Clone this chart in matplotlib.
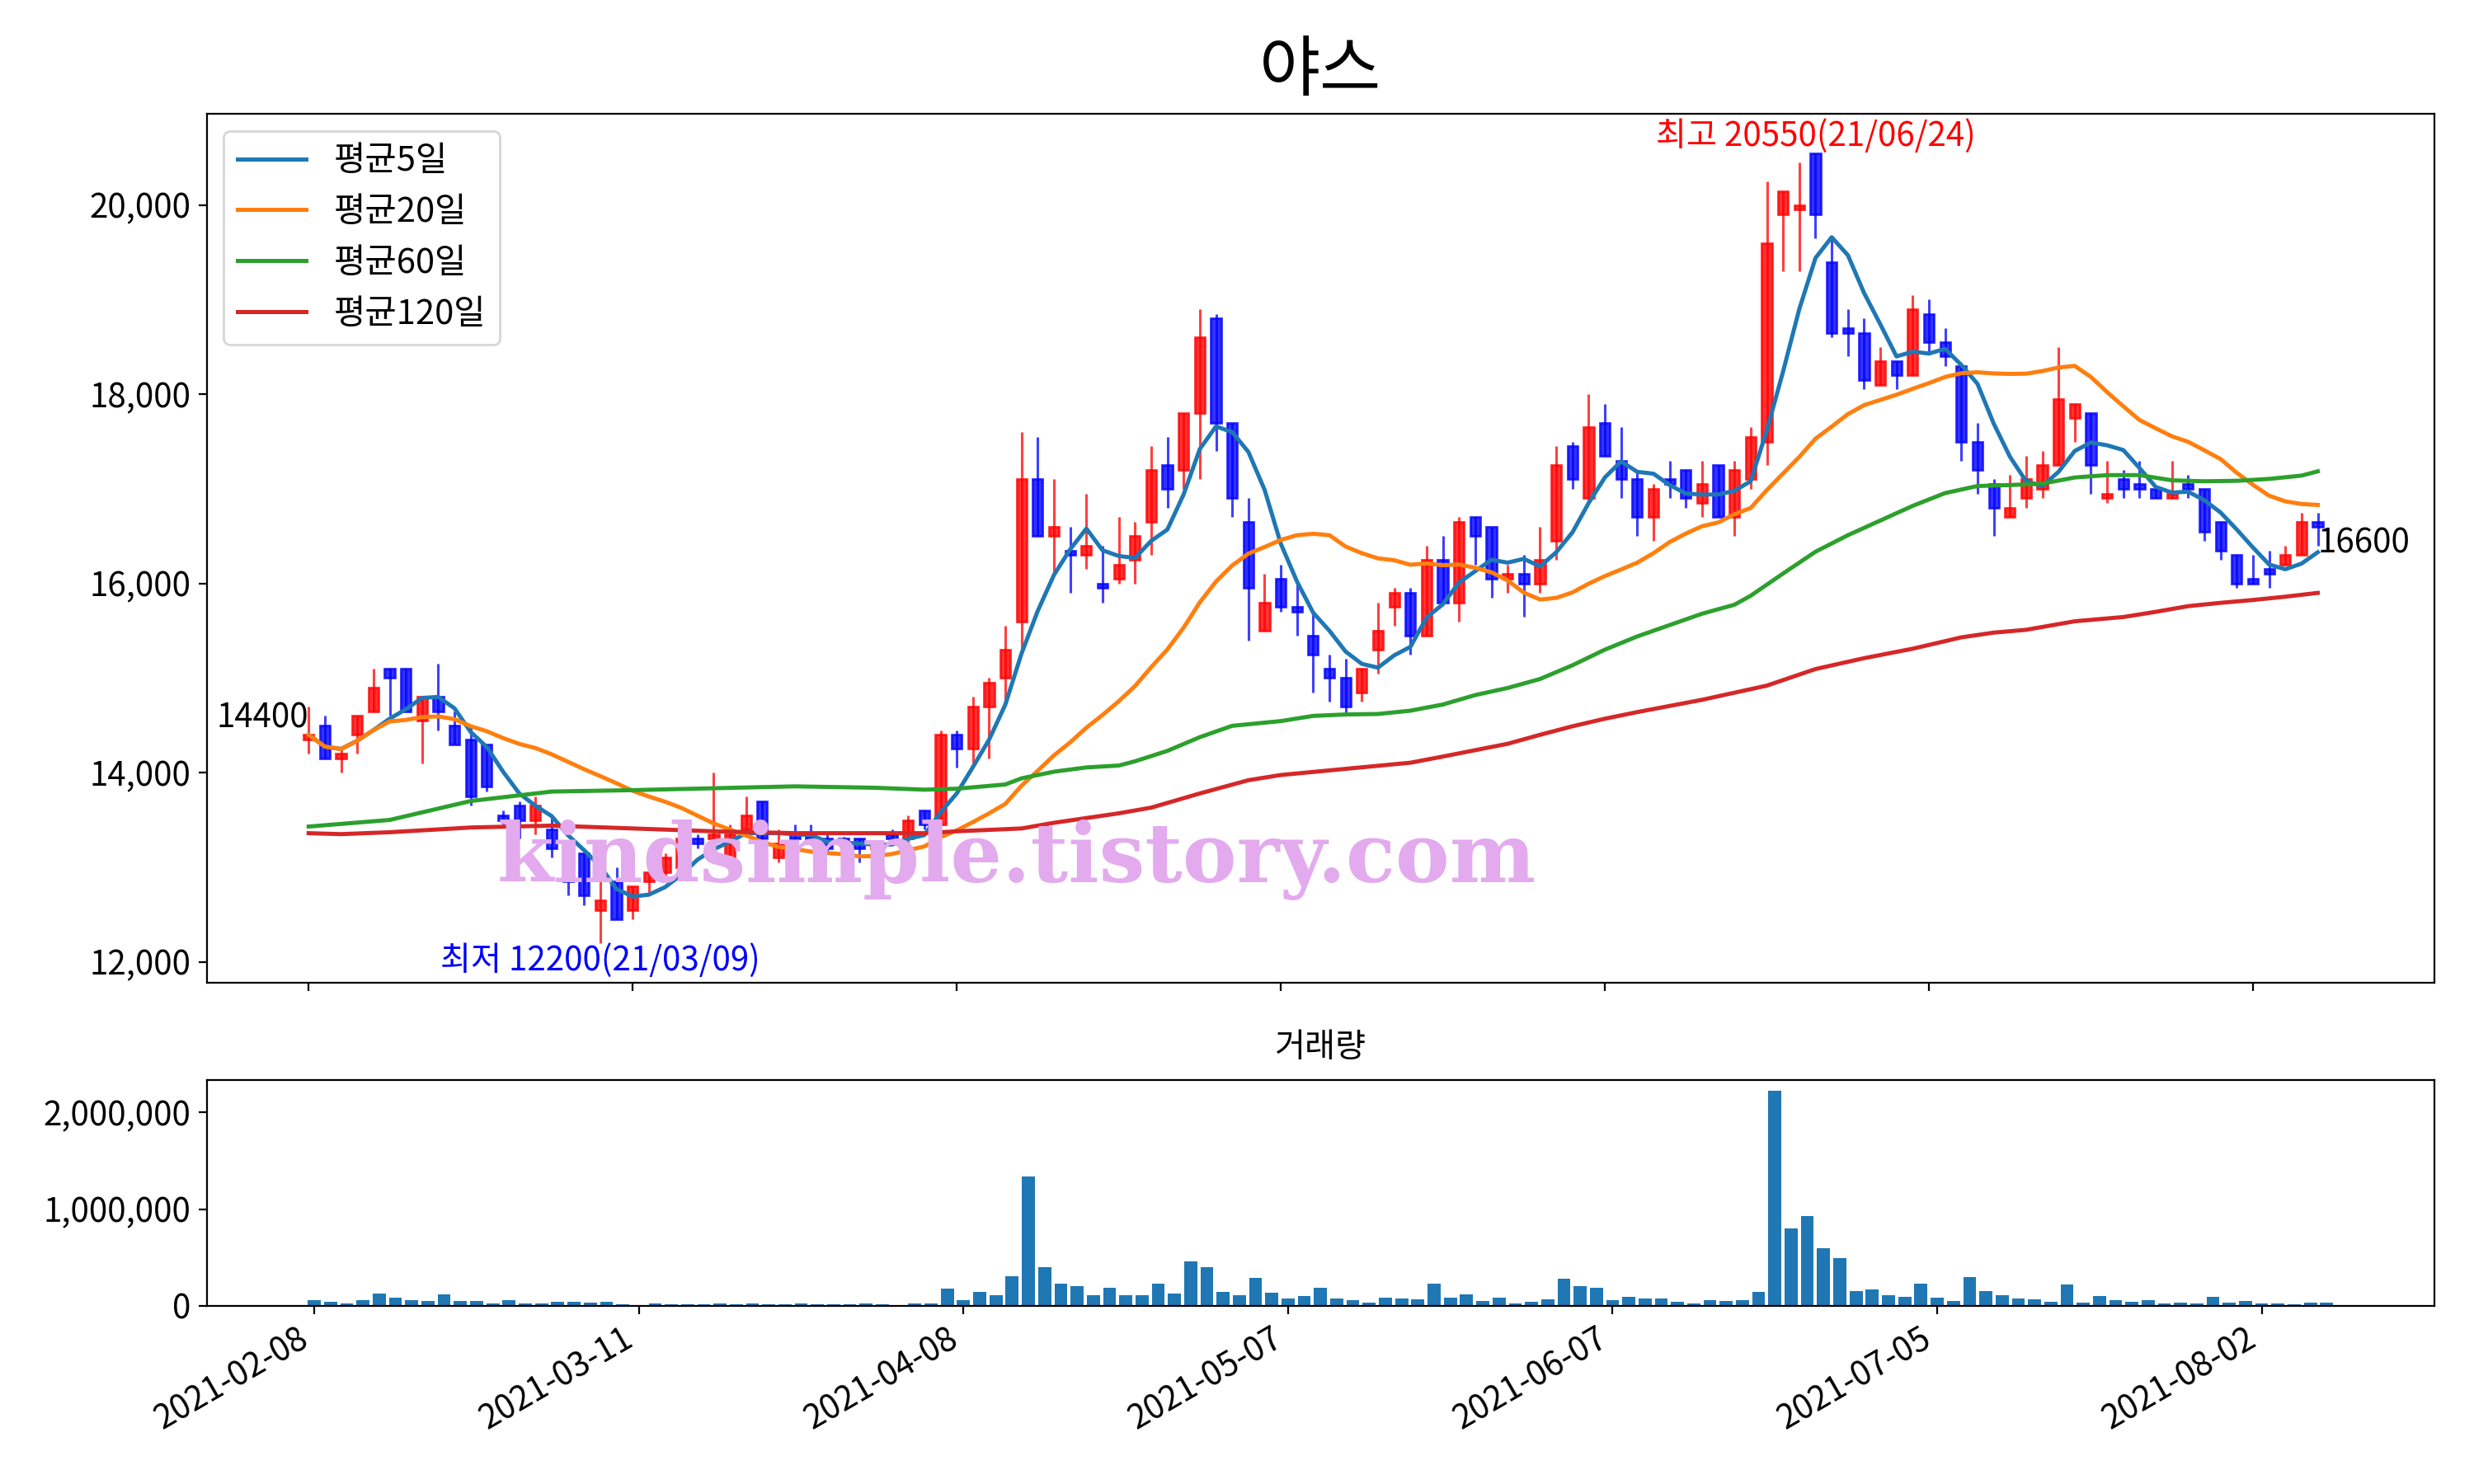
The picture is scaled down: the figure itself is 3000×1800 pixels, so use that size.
import numpy as np
import pandas as pd
import matplotlib
matplotlib.use('Agg')
import matplotlib.pyplot as plt
from matplotlib.ticker import MultipleLocator, FuncFormatter

plt.rcParams['font.family'] = ['Noto Sans CJK KR', 'DejaVu Sans']

title = '야스'
volume_title = '거래량'
tick_labels = ['2021-02-08', '2021-03-11', '2021-04-08', '2021-05-07',
               '2021-06-07', '2021-07-05', '2021-08-02']
tick_step = 20
high_date = '21/06/24'
low_date = '21/03/09'
ma_labels = ['평균5일', '평균20일', '평균60일', '평균120일']
watermark = 'kindsimple.tistory.com'

opens = [14350, 14500, 14150, 14400, 14650, 15100, 15100, 14550, 14800, 14500,
         14350, 14300, 13550, 13650, 13500, 13400, 13000, 13150, 12550, 12850,
         12550, 12850, 12950, 13000, 13300, 13300, 13100, 13400, 13700, 13100,
         13350, 13350, 13300, 13300, 13300, 13200, 13350, 13300, 13600, 13450,
         14400, 14250, 14700, 15000, 15600, 17100, 16500, 16350, 16300, 16000,
         16050, 16250, 16650, 17250, 17200, 17800, 18800, 17700, 16650, 15500,
         16050, 15750, 15450, 15100, 15000, 14850, 15300, 15750, 15900, 15450,
         16250, 15800, 16700, 16600, 16050, 16100, 16000, 16450, 17450, 16900,
         17700, 17300, 17100, 16700, 17100, 17200, 16850, 17250, 16700, 17100,
         17500, 19900, 19950, 20550, 19400, 18700, 18650, 18100, 18350, 18200,
         18850, 18550, 18300, 17500, 17050, 16700, 16900, 17000, 17250, 17750,
         17800, 16900, 17100, 17050, 17000, 16900, 17050, 17000, 16650, 16300,
         16050, 16150, 16200, 16300, 16650]
highs = [14700, 14600, 14250, 14600, 15100, 15100, 15100, 14800, 15150, 14650,
         14500, 14300, 13600, 13700, 13750, 13550, 13100, 13150, 12850, 13000,
         12800, 12950, 13150, 13350, 13350, 14000, 13450, 13750, 13700, 13400,
         13450, 13450, 13350, 13320, 13300, 13280, 13400, 13550, 13600, 14450,
         14450, 14800, 15000, 15550, 17600, 17550, 17100, 16600, 16950, 16400,
         16700, 16650, 17450, 17550, 17800, 18900, 18850, 17700, 16900, 16100,
         16200, 16000, 15700, 15250, 15200, 15100, 15800, 15950, 15950, 16400,
         16500, 16700, 16700, 16600, 16200, 16300, 16600, 17450, 17500, 18000,
         17900, 17650, 17200, 17050, 17300, 17200, 17300, 17250, 17300, 17650,
         20250, 20150, 20450, 20550, 19650, 18900, 18800, 18500, 18350, 19050,
         19000, 18700, 18300, 17700, 17100, 17150, 17350, 17400, 18500, 17900,
         17800, 17300, 17200, 17300, 17000, 17300, 17150, 17000, 16650, 16300,
         16300, 16350, 16400, 16750, 16750]
lows = [14200, 14150, 14000, 14200, 14650, 14600, 14650, 14100, 14450, 14300,
        13650, 13800, 13450, 13300, 13350, 13100, 12700, 12600, 12200, 12450,
        12450, 12700, 12900, 12950, 13200, 13300, 13050, 13350, 13250, 13050,
        13300, 13250, 13150, 13200, 13050, 13150, 13280, 13250, 13400, 13450,
        14050, 14100, 14150, 14750, 15300, 16500, 16100, 15900, 16150, 15800,
        16000, 16000, 16300, 16800, 17000, 17100, 17400, 16700, 15400, 15500,
        15700, 15450, 14850, 14750, 14600, 14750, 15050, 15550, 15250, 15450,
        15800, 15600, 16200, 15850, 15900, 15650, 15900, 16250, 17000, 16850,
        17350, 16900, 16500, 16450, 16900, 16800, 16700, 16700, 16500, 17000,
        17250, 19300, 19300, 19650, 18600, 18400, 18050, 18100, 18050, 18200,
        18450, 18300, 17300, 16950, 16500, 16700, 16800, 16900, 17250, 17500,
        16950, 16850, 16900, 16900, 16900, 16900, 16900, 16450, 16250, 15950,
        16000, 15950, 16200, 16300, 16400]
closes = [14400, 14150, 14200, 14600, 14900, 15000, 14650, 14800, 14650, 14300,
          13750, 13850, 13500, 13500, 13650, 13200, 12850, 12700, 12650, 12450,
          12800, 12950, 13100, 13300, 13250, 13350, 13350, 13550, 13300, 13250,
          13300, 13300, 13200, 13250, 13200, 13250, 13300, 13500, 13450, 14400,
          14250, 14700, 14950, 15300, 17100, 16500, 16600, 16300, 16400, 15950,
          16200, 16500, 17200, 17000, 17800, 18600, 17700, 16900, 15950, 15800,
          15750, 15700, 15250, 15000, 14700, 15100, 15500, 15900, 15450, 16250,
          15800, 16650, 16500, 16050, 16100, 16000, 16250, 17250, 17100, 17650,
          17350, 17100, 16700, 17000, 17050, 16900, 17050, 16700, 17200, 17550,
          19600, 20150, 20000, 19900, 18650, 18650, 18150, 18350, 18200, 18900,
          18550, 18400, 17500, 17200, 16800, 16800, 17100, 17250, 17950, 17900,
          17250, 16950, 17000, 17000, 16900, 16950, 17000, 16550, 16350, 16000,
          16000, 16100, 16300, 16650, 16600]
volumes = [57000, 40000, 23000, 57000, 127000, 82000, 57000, 48000, 116000, 48000,
           48000, 23000, 57000, 23000, 23000, 40000, 40000, 31000, 40000, 14000,
           8000, 23000, 14000, 14000, 14000, 23000, 14000, 23000, 14000, 14000,
           23000, 14000, 14000, 14000, 23000, 14000, 8000, 23000, 23000, 176000,
           57000, 142000, 108000, 303000, 1340000, 397000, 227000, 201000, 108000, 184000,
           108000, 108000, 227000, 125000, 456000, 397000, 142000, 108000, 286000, 133000,
           74000, 99000, 184000, 74000, 57000, 31000, 82000, 74000, 65000, 227000,
           82000, 116000, 48000, 82000, 23000, 40000, 65000, 278000, 201000, 184000,
           57000, 91000, 74000, 74000, 40000, 23000, 57000, 48000, 57000, 142000,
           2224000, 805000, 932000, 592000, 490000, 150000, 167000, 108000, 91000, 227000,
           82000, 48000, 295000, 150000, 108000, 74000, 65000, 40000, 218000, 31000,
           99000, 57000, 40000, 57000, 23000, 31000, 23000, 91000, 31000, 48000,
           23000, 23000, 14000, 31000, 31000]

# long moving averages (trading-day index, value)
ma60_idx = [0, 5, 10, 15, 20, 25, 30, 35, 38, 40, 43, 44, 46, 48, 50, 51, 53, 55, 57,
            60, 62, 64, 66, 68, 70, 72, 74, 76, 78, 80, 82, 84, 86, 88, 89, 91, 93,
            95, 97, 99, 101, 103, 105, 107, 109, 111, 113, 115, 117, 119, 121, 123, 124]
ma60_val = [13430, 13500, 13700, 13800, 13815, 13835, 13855, 13840, 13820, 13830,
            13875, 13940, 14010, 14055, 14075, 14120, 14230, 14375, 14495,
            14545, 14600, 14615, 14620, 14655, 14720, 14820, 14895, 14990, 15135,
            15300, 15440, 15560, 15680, 15775, 15870, 16105, 16335,
            16510, 16665, 16820, 16955, 17030, 17040, 17055, 17120, 17145, 17145,
            17090, 17080, 17085, 17105, 17140, 17185]
ma120_idx = [0, 2, 5, 10, 15, 20, 25, 30, 35, 38, 40, 44, 46, 50, 52, 55, 58, 60, 64,
             68, 70, 74, 76, 78, 80, 82, 86, 90, 93, 96, 99, 102, 104, 106, 109, 112,
             114, 116, 118, 120, 122, 124]
ma120_val = [13360, 13350, 13370, 13420, 13440, 13410, 13380, 13360, 13360, 13360,
             13380, 13410, 13470, 13570, 13630, 13780, 13920, 13975, 14040,
             14105, 14170, 14305, 14400, 14490, 14570, 14640, 14770, 14920, 15095,
             15210, 15310, 15430, 15480, 15510, 15600, 15645,
             15700, 15760, 15795, 15825, 15860, 15900]

o = np.array(opens, float)
h = np.array(highs, float)
l = np.array(lows, float)
c = np.array(closes, float)
v = np.array(volumes, float)
n = len(c)
x = np.arange(n)

cs = pd.Series(c)
ma5 = cs.rolling(5, min_periods=1).mean().values
ma20 = cs.rolling(20, min_periods=1).mean().values

fig = plt.figure(figsize=(15, 9), dpi=200)
ax = fig.add_axes([0.0835, 0.338, 0.9005, 0.5855])
axv = fig.add_axes([0.0835, 0.1201, 0.9005, 0.152])

colors = np.where(c >= o, 'red', 'blue')
ax.vlines(x, l, h, colors=colors, alpha=0.75, lw=1.1, zorder=2)
ax.bar(x, np.abs(c - o), bottom=np.minimum(o, c), width=0.62, color=colors,
       edgecolor=colors, lw=1.0, alpha=0.8, zorder=3)

ax.plot(x, ma5, color='C0', lw=1.8, label=ma_labels[0], zorder=4)
ax.plot(x, ma20, color='C1', lw=1.8, label=ma_labels[1], zorder=4)
ax.plot(ma60_idx, ma60_val, color='C2', lw=1.8, label=ma_labels[2], zorder=4)
ax.plot(ma120_idx, ma120_val, color='C3', lw=1.8, label=ma_labels[3], zorder=4)

ax.legend(loc='upper left', fontsize=15)

imax = int(np.argmax(h))
imin = int(np.argmin(l))
ax.text(imax, h[imax], f'최고 {int(h[imax])}({high_date})', color='red',
        ha='center', va='bottom', fontsize=14.5)
ax.text(imin, l[imin], f'최저 {int(l[imin])}({low_date})', color='blue',
        ha='center', va='top', fontsize=14.5)
ax.text(0, c[0], f'{int(c[0])}', ha='right', va='bottom', fontsize=14.5)
ax.text(n - 1, c[-1], f'{int(c[-1])}', ha='left', va='top', fontsize=14.5)

ticks = list(range(0, n, tick_step))[:len(tick_labels)]
fmt = FuncFormatter(lambda val, pos: f'{val:,.0f}')

ax.set_xticks(ticks)
ax.set_xticklabels([])
ax.set_xlim(-6.3, 131.2)
ax.yaxis.set_major_locator(MultipleLocator(2000))
ax.yaxis.set_major_formatter(fmt)
ax.tick_params(labelsize=14.5)
ax.set_title(title, fontsize=29, pad=10)

axv.bar(x, v, width=0.8, color='C0')
axv.set_xticks(ticks)
axv.set_xticklabels(tick_labels, rotation=30, ha='right')
axv.set_xlim(-6.64, 130.64)
axv.yaxis.set_major_locator(MultipleLocator(1000000))
axv.yaxis.set_major_formatter(fmt)
axv.tick_params(labelsize=14.5)
axv.set_title(volume_title, fontsize=14.5, pad=10)

fig.text(0.201, 0.4208, watermark, fontsize=35.5, family='DejaVu Serif',
         weight='bold', color='#E3AAEE', ha='left', va='center', zorder=10)

fig.savefig('out.png', dpi=200)
